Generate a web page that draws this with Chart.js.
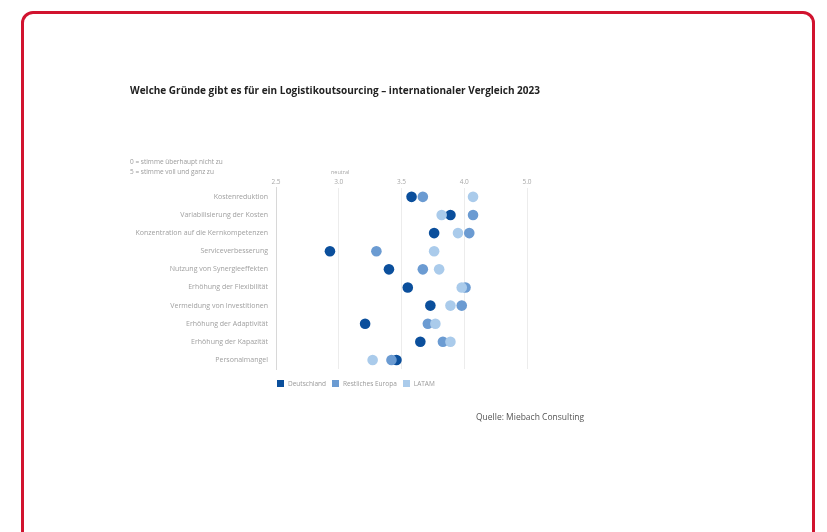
<!DOCTYPE html>
<html>
<head>
<meta charset="utf-8">
<script src="https://cdn.jsdelivr.net/npm/chart.js@4"></script>
<style>
  body { margin: 0; background: #fff; font-family: "Open Sans", sans-serif; }
  #frame {
    position: absolute; left: 21px; top: 11px; width: 794px; height: 540px;
    border: 3px solid #d1132f; border-radius: 12px; box-sizing: border-box;
  }
  #wrap { position: absolute; left: 0; top: 0; width: 827px; height: 532px; }
  .txt { position: absolute; white-space: nowrap; }
  #title { left: 130px; top: 83px; font-size: 10px; font-weight: 700; color: #222; }
  #note { left: 130px; top: 157px; font-size: 6.5px; line-height: 10px; color: #9a9a9a; }
  #neutral { left: 331px; top: 168px; font-size: 5.5px; color: #a5a5a5; }
  #legend { left: 277px; top: 379px; font-size: 6.5px; color: #999; display: flex; align-items: center; }
  #legend span.box { display: inline-block; width: 7px; height: 7px; margin-right: 4px; }
  #legend span.lbl { margin-right: 6px; }
  #source { left: 476px; top: 411px; font-size: 8.5px; color: #555; }
</style>
</head>
<body>
<div id="frame"></div>
<div id="wrap"><canvas id="chart" width="827" height="532"></canvas></div>
<div class="txt" id="title">Welche Gründe gibt es für ein Logistikoutsourcing – internationaler Vergleich 2023</div>
<div class="txt" id="note">0 = stimme überhaupt nicht zu<br>5 = stimme voll und ganz zu</div>
<div class="txt" id="neutral">neutral</div>
<div class="txt" id="legend"></div>
<div class="txt" id="source">Quelle: Miebach Consulting</div>
<script>
const categories = [
  'Kostenreduktion',
  'Variabilisierung der Kosten',
  'Konzentration auf die Kernkompetenzen',
  'Serviceverbesserung',
  'Nutzung von Synergieeffekten',
  'Erhöhung der Flexibilität',
  'Vermeidung von Investitionen',
  'Erhöhung der Adaptivität',
  'Erhöhung der Kapazität',
  'Personalmangel'
];
const deutschland = [3.58, 3.89, 3.76, 2.93, 3.40, 3.55, 3.73, 3.21, 3.65, 3.46];
const restEuropa  = [3.67, 4.07, 4.04, 3.30, 3.67, 4.01, 3.98, 3.71, 3.83, 3.42];
const latam       = [4.07, 3.82, 3.95, 3.76, 3.80, 3.98, 3.89, 3.77, 3.89, 3.27];
const seriesNames = ['Deutschland', 'Restliches Europa', 'LATAM'];
const seriesColors = ['#0b4f9c', '#6b9bd2', '#aacbeb'];
const tickLabels = ['2.5', '3.0', '3.5', '4.0', '5.0'];

// legend
const legend = document.getElementById('legend');
seriesNames.forEach((n, i) => {
  legend.innerHTML += '<span class="box" style="background:' + seriesColors[i] + '"></span><span class="lbl">' + n + '</span>';
});

const seriesData = [deutschland, restEuropa, latam];
// draw light ones first so dark sits on top
const order = [2, 1, 0];
const datasets = order.map(i => ({
  label: seriesNames[i],
  data: seriesData[i],
  showLine: false,
  pointRadius: 5.3,
  pointHoverRadius: 5.3,
  pointBorderWidth: 0,
  pointBackgroundColor: seriesColors[i],
  borderColor: seriesColors[i],
  backgroundColor: seriesColors[i]
}));

new Chart(document.getElementById('chart'), {
  type: 'line',
  data: { labels: categories, datasets: datasets },
  options: {
    responsive: false,
    animation: false,
    indexAxis: 'y',
    layout: { padding: { left: 0, right: 300, top: 176, bottom: 163 } },
    plugins: { legend: { display: false }, tooltip: { enabled: false } },
    scales: {
      x: {
        type: 'linear',
        position: 'top',
        min: 2.5, max: 4.5,
        ticks: {
          stepSize: 0.5,
          padding: 2,
          color: '#a8a8a8',
          font: { family: 'Open Sans', size: 6.5 },
          callback: (v, i) => tickLabels[i]
        },
        grid: { color: '#ececec', drawTicks: false },
        border: { display: false }
      },
      y: {
        type: 'category',
        offset: true,
        afterFit: s => { s.width = 276; },
        ticks: {
          padding: 8,
          color: '#a0a0a0',
          font: { family: 'Open Sans', size: 7 }
        },
        grid: { display: false, drawTicks: false },
        border: { display: true, color: '#d8d8d8' }
      }
    }
  }
});
</script>
</body>
</html>
